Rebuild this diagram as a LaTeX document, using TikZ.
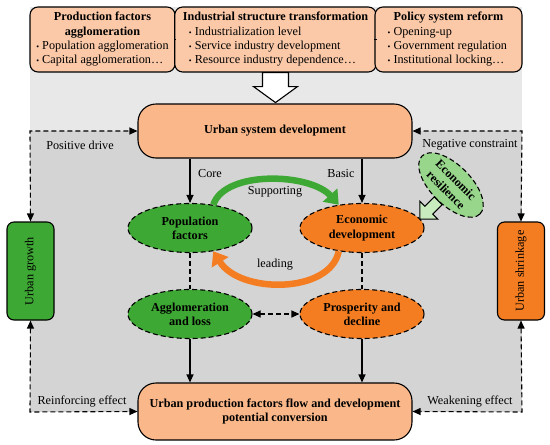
\documentclass[tikz,border=0pt]{standalone}
\usepackage{fontspec}
\setmainfont{Liberation Serif}
\usepackage{tikz}
\usetikzlibrary{positioning}
\usetikzlibrary{arrows.meta,shapes}
\usetikzlibrary{shapes.arrows}
\usetikzlibrary{calc}
\definecolor{peach}{RGB}{250,183,137}
\definecolor{lightpeach}{RGB}{251,201,168}
\definecolor{leafgreen}{RGB}{62,168,52}
\definecolor{deeporange}{RGB}{244,125,34}
\definecolor{palegreen}{RGB}{152,214,140}
\definecolor{mintgreen}{RGB}{200,236,190}
\definecolor{bglight}{RGB}{232,232,232}
\definecolor{bgdark}{RGB}{212,212,212}
\newcommand{\basefont}{\fontsize{12.2}{14.3}\selectfont}
\newcommand{\itm}{{\footnotesize\textbullet}\ }
\tikzstyle{topbox}=[draw,line width=1.1pt,rounded corners=8pt,fill=lightpeach,inner sep=2pt,font=\basefont]
\tikzstyle{mainbox}=[draw,line width=1.1pt,rounded corners=18pt,fill=peach,font=\basefont\bfseries,align=center,minimum width=274pt]
\tikzstyle{sidebox}=[draw,line width=1.1pt,rounded corners=7pt,minimum width=98pt,minimum height=47pt,rotate=90,font=\basefont]
\tikzstyle{factor}=[ellipse,draw,line width=1.1pt,dash pattern=on 5pt off 3pt,font=\basefont\bfseries,align=center,minimum width=124pt,minimum height=49pt,inner sep=0pt]
\tikzstyle{edge}=[draw,line width=1.1pt,-{Triangle[length=8pt,width=7pt]}]
\tikzstyle{dashedge}=[draw,line width=1.1pt,dash pattern=on 5pt off 3pt,{Triangle[length=8pt,width=7pt]}-{Triangle[length=8pt,width=7pt]}]
\tikzstyle{dashlink}=[draw,line width=1.1pt,dash pattern=on 5pt off 3pt]
\tikzstyle{flowarrow}=[line width=6.5pt,-{Triangle[length=13pt,width=19pt]}]
\tikzstyle{weight}=[font=\basefont]
\begin{document}
\begin{tikzpicture}[x=1pt, y=-1pt]
    \useasboundingbox (0,0) rectangle (550,445);

    \fill[bglight] (30,7) rectangle (522,131);
    \fill[bgdark] (30,131) rectangle (522,412);

    \node[topbox, minimum width=145pt, minimum height=65pt] (T1) at (102.5,39.5)
        {\begin{tabular}{@{}l@{}}\multicolumn{1}{c}{\bfseries Production factors}\\ \multicolumn{1}{c}{\bfseries agglomeration}\\ \itm Population agglomeration\\ \itm Capital agglomeration\ldots\end{tabular}};
    \node[topbox, minimum width=189pt, minimum height=65pt] (T2) at (275.5,39.5)
        {\begin{tabular}{@{}l@{}}\multicolumn{1}{c}{\bfseries Industrial structure transformation}\\ \quad\itm Industrialization level\\ \quad\itm Service industry development\\ \quad\itm Resource industry dependence\ldots\end{tabular}};
    \node[topbox, minimum width=147pt, minimum height=65pt] (T3) at (448.5,39.5)
        {\begin{tabular}{@{}l@{}}\multicolumn{1}{c}{\bfseries Policy system reform}\\ \itm Opening-up\\ \itm Government regulation\\ \itm Institutional locking\ldots\end{tabular}};
    \draw[line width=1.1pt] (T1.east) -- (T2.west);
    \draw[line width=1.1pt] (T2.east) -- (T3.west);

    \node[mainbox, minimum height=54pt] (U) at (275,131) {Urban system development};
    \node[mainbox, minimum height=57pt] (B) at (275,411.5) {Urban production factors flow and development\\potential conversion};

    \draw[line width=1.1pt, fill=white] (T2.south) ++(-13,0) -- ++(26,0) -- ++(0,14) -- ++(9,0) -- ++(-22,16) -- ++(-22,-16) -- ++(9,0) -- cycle;

    \node[sidebox, fill=leafgreen] (UG) at (30.5,271) {Urban growth};
    \node[sidebox, fill=deeporange] (US) at (521,271) {Urban shrinkage};

    \foreach \name/\x/\y/\col/\txt in {PF/190/228/leafgreen/{Population\\factors}, ED/362/228/deeporange/{Economic\\development}, AL/190/314/leafgreen/{Agglomeration\\and loss}, PD/362/314/deeporange/{Prosperity and\\decline}}
        \node[factor, fill=\col] (\name) at (\x,\y) {\txt};

    \node[factor, fill=palegreen, minimum width=82pt, minimum height=40pt, rotate=-45] (ER) at (451,185) {Economic\\resilience};
    \node[single arrow, draw, line width=1.1pt, fill=mintgreen, minimum height=26pt, minimum width=21pt, inner sep=5pt, rotate=225] (RA) at (431,208) {};

    \coordinate (TL) at (30,131);
    \coordinate (TR) at (522,131);
    \coordinate (BL) at (30,412);
    \coordinate (BR) at (522,412);

    \foreach \source/\dest in {U/PF, U/ED}
        \path[edge] (\dest.north |- \source.south) -- (\dest.north);
    \foreach \source/\dest in {AL/B, PD/B}
        \path[edge] (\source.south) -- (\source.south |- \dest.north);
    \foreach \source/\dest in {PF/AL, ED/PD}
        \path[dashlink] (\source) -- (\dest);

    \path[dashedge] (AL) -- (PD);
    \path[dashedge] (UG.east) -- (TL) -- (U.west);
    \path[dashedge] (US.east) -- (TR) -- (U.east);
    \path[dashedge] (UG.west) -- (BL) -- (B.west);
    \path[dashedge] (US.west) -- (BR) -- (B.east);

    \draw[flowarrow, leafgreen] (PF.45) .. controls (225,170) and (310,173) .. (ED.135);
    \draw[flowarrow, deeporange] (ED.225) .. controls (330,294) and (240,294) .. (PF.315);

    \foreach \x/\y/\txt [count=\i] in {80/145/Positive drive, 470/145/Negative constraint, 82/402/Reinforcing effect, 470/402/Weakening effect, 210/174/Core, 341/174/Basic, 275/192/Supporting, 275/265/leading}
        \node[weight] (L\i) at (\x,\y) {\txt};

\end{tikzpicture}
\end{document}
